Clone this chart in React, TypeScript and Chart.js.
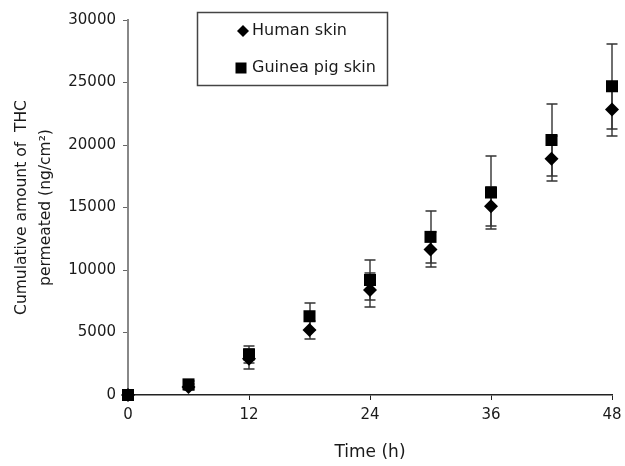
import React, { useEffect, useRef } from "react";
import { Chart, registerables } from "chart.js";

Chart.register(...registerables);

const times = [0, 6, 12, 18, 24, 30, 36, 42, 48];
const humanSkin = [0, 650, 2900, 5200, 8400, 11650, 15100, 18900, 22850];
const humanSD = [0, 250, 800, 700, 1350, 1400, 1550, 1800, 2150];
const guineaPigSkin = [0, 850, 3250, 6300, 9200, 12650, 16200, 20400, 24700];
const guineaSD = [0, 300, 700, 1100, 1600, 2100, 2900, 2900, 3400];
const seriesLabels = ["Human skin", "Guinea pig skin"];
const xTickStep = 12;
const yTickStep = 5000;

const FONT = "'DejaVu Sans', 'Liberation Sans', Arial, sans-serif";
const TEXT = "#1a1a1a";

const errorBarPlugin = {
  id: "errorBars",
  beforeDatasetsDraw(chart: any) {
    const ctx = chart.ctx;
    const xs = chart.scales.x;
    const ys = chart.scales.y;
    const sets = [
      { v: humanSkin, sd: humanSD },
      { v: guineaPigSkin, sd: guineaSD },
    ];
    ctx.save();
    ctx.strokeStyle = "#333";
    ctx.lineWidth = 1.4;
    sets.forEach(({ v, sd }) => {
      times.forEach((t, i) => {
        if (!sd[i]) return;
        const x = Math.round(xs.getPixelForValue(t));
        const yTop = Math.round(ys.getPixelForValue(v[i] + sd[i]));
        const yBot = Math.round(ys.getPixelForValue(v[i] - sd[i]));
        ctx.beginPath();
        ctx.moveTo(x, yTop);
        ctx.lineTo(x, yBot);
        ctx.moveTo(x - 5.5, yTop);
        ctx.lineTo(x + 5.5, yTop);
        ctx.moveTo(x - 5.5, yBot);
        ctx.lineTo(x + 5.5, yBot);
        ctx.stroke();
      });
    });
    ctx.restore();
  },
};

const legendPlugin = {
  id: "boxLegend",
  afterDraw(chart: any) {
    const ctx = chart.ctx;
    ctx.save();
    ctx.strokeStyle = "#444";
    ctx.lineWidth = 1.5;
    ctx.strokeRect(197.5, 12.5, 190, 73);
    ctx.fillStyle = "#000";
    const dx = 243, dy = 31, r = 6;
    ctx.beginPath();
    ctx.moveTo(dx, dy - r);
    ctx.lineTo(dx + r, dy);
    ctx.lineTo(dx, dy + r);
    ctx.lineTo(dx - r, dy);
    ctx.closePath();
    ctx.fill();
    ctx.fillRect(241 - 5.5, 68 - 5.5, 11, 11);
    ctx.fillStyle = TEXT;
    ctx.font = `16px ${FONT}`;
    ctx.textBaseline = "middle";
    ctx.textAlign = "left";
    ctx.fillText(seriesLabels[0], 252, 31);
    ctx.fillText(seriesLabels[1], 252, 68);
    ctx.restore();
  },
};

export default function App() {
  const ref = useRef<HTMLCanvasElement | null>(null);

  useEffect(() => {
    if (!ref.current) return;
    const chart = new Chart(ref.current, {
      type: "scatter",
      data: {
        datasets: [
          {
            label: seriesLabels[0],
            data: times.map((t, i) => ({ x: t, y: humanSkin[i] })),
            pointStyle: "rectRot",
            pointRadius: 7,
            backgroundColor: "#000",
            borderColor: "#000",
            borderWidth: 0,
            clip: false as any,
          },
          {
            label: seriesLabels[1],
            data: times.map((t, i) => ({ x: t, y: guineaPigSkin[i] })),
            pointStyle: "rect",
            pointRadius: 8.5,
            backgroundColor: "#000",
            borderColor: "#000",
            borderWidth: 0,
            clip: false as any,
          },
        ],
      },
      options: {
        animation: false,
        responsive: true,
        maintainAspectRatio: false,
        layout: { autoPadding: false, padding: { top: 20, right: 13, bottom: 0, left: 0 } },
        plugins: {
          legend: { display: false },
          tooltip: { enabled: false },
        },
        scales: {
          x: {
            type: "linear",
            min: 0,
            max: 48,
            afterFit: (s: any) => {
              s.height = 71;
              s.paddingLeft = 0;
              s.paddingRight = 0;
            },
            ticks: {
              stepSize: xTickStep,
              color: TEXT,
              font: { family: FONT, size: 15 },
              padding: 6,
              callback: (v: any) => String(v),
            },
            grid: {
              display: true,
              drawOnChartArea: false,
              drawTicks: true,
              tickLength: 5,
              color: "#222",
            },
            border: { display: true, color: "#222", width: 1.5 },
            title: {
              display: true,
              text: "Time (h)",
              color: TEXT,
              font: { family: FONT, size: 17 },
              padding: { top: 0, bottom: 3 },
            },
          },
          y: {
            type: "linear",
            min: 0,
            max: 30000,
            afterFit: (s: any) => {
              s.width = 128;
              s.paddingTop = 0;
              s.paddingBottom = 0;
            },
            ticks: {
              stepSize: yTickStep,
              color: TEXT,
              font: { family: FONT, size: 15 },
              padding: 7,
              callback: (v: any) => String(v),
            },
            grid: {
              display: true,
              drawOnChartArea: false,
              drawTicks: true,
              tickLength: 5,
              color: "#666",
            },
            border: { display: true, color: "#888", width: 2 },
            title: {
              display: true,
              text: ["Cumulative amount of  THC", "permeated (ng/cm\u00B2)"],
              color: TEXT,
              font: { family: FONT, size: 15.5, lineHeight: 1.55 },
              padding: { top: 10, bottom: 0 },
            },
          },
        },
      },
      plugins: [errorBarPlugin, legendPlugin],
    });
    return () => chart.destroy();
  }, []);

  return (
    <div style={{ position: "fixed", left: 0, top: 0, width: 625, height: 466, background: "#fff" }}>
      <canvas ref={ref} />
    </div>
  );
}
